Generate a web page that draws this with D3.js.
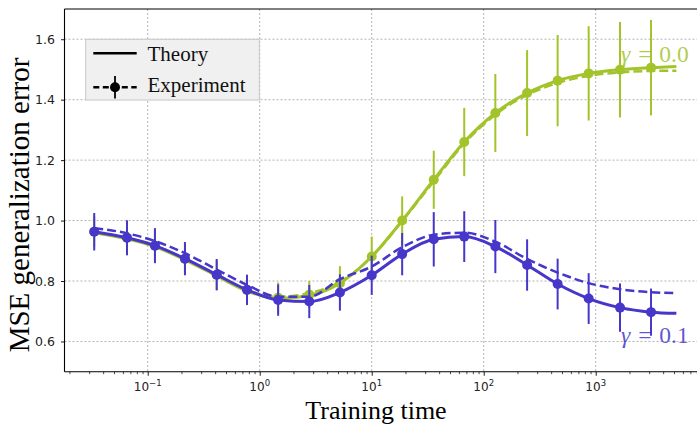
<!DOCTYPE html>
<html><head><meta charset="utf-8">
<script src="https://cdn.jsdelivr.net/npm/d3@7"></script>
<style>body{margin:0;background:#fff}svg{display:block}</style>
</head><body>
<svg id="c" width="697" height="425"></svg>
<script>
// ---- data ----
const times = [0.0333, 0.0653, 0.116, 0.215, 0.413, 0.77, 1.46, 2.77, 5.2, 10, 18.7, 35.8, 67, 127, 244, 457, 865, 1648, 3118];
const tEnd = 5250;
const blueExp = [0.963, 0.943, 0.917, 0.874, 0.821, 0.771, 0.737, 0.732, 0.762, 0.819, 0.889, 0.938, 0.947, 0.914, 0.853, 0.790, 0.742, 0.712, 0.697];
const blueErr = [0.062, 0.058, 0.058, 0.055, 0.052, 0.05, 0.052, 0.055, 0.06, 0.065, 0.07, 0.09, 0.084, 0.088, 0.085, 0.084, 0.084, 0.08, 0.078];
const blueTheory = [0.963, 0.943, 0.917, 0.874, 0.821, 0.771, 0.737, 0.732, 0.762, 0.819, 0.889, 0.938, 0.947, 0.914, 0.853, 0.790, 0.742, 0.712, 0.697, 0.693];
const blueDashed = [0.975, 0.958, 0.932, 0.892, 0.838, 0.787, 0.748, 0.748, 0.806, 0.848, 0.912, 0.953, 0.960, 0.930, 0.873, 0.828, 0.793, 0.773, 0.763, 0.760];
const greenExp = [0.963, 0.943, 0.917, 0.873, 0.820, 0.770, 0.745, 0.755, 0.793, 0.881, 1.0, 1.135, 1.26, 1.356, 1.422, 1.463, 1.487, 1.499, 1.506];
const greenErr = [0.05, 0.05, 0.05, 0.05, 0.05, 0.05, 0.05, 0.045, 0.056, 0.066, 0.08, 0.096, 0.113, 0.129, 0.142, 0.151, 0.156, 0.158, 0.158];
const greenTheory = [0.960, 0.940, 0.914, 0.870, 0.817, 0.767, 0.742, 0.752, 0.793, 0.881, 1.0, 1.135, 1.26, 1.356, 1.422, 1.463, 1.487, 1.499, 1.506, 1.51];
const greenDashed = [0.962, 0.942, 0.916, 0.873, 0.820, 0.770, 0.748, 0.760, 0.797, 0.880, 0.998, 1.13, 1.255, 1.35, 1.416, 1.455, 1.479, 1.490, 1.495, 1.496];
const yTicks = [0.6, 0.8, 1.0, 1.2, 1.4, 1.6];
const xTickExps = [-1, 0, 1, 2, 3];
const legendLabels = ["Theory", "Experiment"];
const seriesLabels = ["γ = 0.0", "γ = 0.1"];

const BLUE = "#4636c9", GREEN = "#a2c42a";

// ---- layout ----
const L = 64.5, T = 9, B = 371.7;
const x = d3.scaleLog().domain([Math.pow(10, -1.743), 1e4]).range([L, L + 5.743 * 112]);
const y = d3.scaleLinear().domain([0.5, 1.7]).range([B, T]);

const svg = d3.select("#c");
const g = svg.append("g");

// grid
g.append("g").selectAll("line").data(yTicks).join("line")
  .attr("x1", L).attr("x2", 697).attr("y1", d => y(d)).attr("y2", d => y(d))
  .attr("stroke", "#a0a0a0").attr("stroke-width", 0.8).attr("stroke-dasharray", "2,2");
g.append("g").selectAll("line").data(xTickExps).join("line")
  .attr("x1", d => x(Math.pow(10, d))).attr("x2", d => x(Math.pow(10, d)))
  .attr("y1", T).attr("y2", B)
  .attr("stroke", "#a0a0a0").attr("stroke-width", 0.8).attr("stroke-dasharray", "2,2");

// axes
const xAxis = d3.axisBottom(x).tickValues(xTickExps.map(e => Math.pow(10, e))).tickSize(4).tickFormat("");
const minor = [];
for (let e = -2; e <= 3; e++) for (let k = 2; k <= 9; k++) { const v = k * Math.pow(10, e); if (v > x.domain()[0] && v < x.domain()[1]) minor.push(v); }
const xa = g.append("g").attr("transform", `translate(0,${B})`).call(xAxis);
xa.select(".domain").remove();
xa.selectAll("line").attr("stroke", "#000").attr("stroke-width", 0.9);
const xm = g.append("g").attr("transform", `translate(0,${B})`).call(d3.axisBottom(x).tickValues(minor).tickSize(2.5).tickFormat(""));
xm.select(".domain").remove();
xm.selectAll("line").attr("stroke", "#000").attr("stroke-width", 0.7);

const xl = g.append("g").selectAll("text").data(xTickExps).join("text")
  .attr("x", d => x(Math.pow(10, d))).attr("y", 391)
  .attr("text-anchor", "middle").attr("font-family", "DejaVu Sans").attr("font-size", 12).attr("fill", "#222");
xl.append("tspan").text("10");
xl.append("tspan").attr("dy", -5).attr("font-size", 8.5).text(d => d < 0 ? "−" + Math.abs(d) : String(d));

const ya = g.append("g").attr("transform", `translate(${L},0)`).call(d3.axisLeft(y).tickValues(yTicks).tickSize(3.5).tickFormat(d3.format(".1f")));
ya.select(".domain").remove();
ya.selectAll("line").attr("stroke", "#000").attr("stroke-width", 0.9);
ya.selectAll("text").attr("font-family", "DejaVu Sans").attr("font-size", 12.5).attr("fill", "#222").attr("x", -9.5);

// spines
g.append("line").attr("x1", L).attr("x2", L).attr("y1", T).attr("y2", B).attr("stroke", "#000").attr("stroke-width", 1.1);
g.append("line").attr("x1", L).attr("x2", 697).attr("y1", B).attr("y2", B).attr("stroke", "#000").attr("stroke-width", 1.1);
g.append("line").attr("x1", L).attr("x2", 697).attr("y1", T).attr("y2", T).attr("stroke", "#000").attr("stroke-width", 1.1);

// series
const tLine = times.concat([tEnd]);
const line = d3.line().x((d, i) => x(tLine[i])).y(d => y(d)).curve(d3.curveMonotoneX);

function drawSeries(color, theory, dashed, exp, err) {
  const s = g.append("g");
  s.append("path").attr("d", line(theory)).attr("fill", "none").attr("stroke", color).attr("stroke-width", 3);
  s.append("path").attr("d", line(dashed)).attr("fill", "none").attr("stroke", color).attr("stroke-width", 2.5).attr("stroke-dasharray", "9,4");
  s.append("g").selectAll("line").data(exp).join("line")
    .attr("x1", (d, i) => x(times[i])).attr("x2", (d, i) => x(times[i]))
    .attr("y1", (d, i) => y(d - err[i])).attr("y2", (d, i) => y(d + err[i]))
    .attr("stroke", color).attr("stroke-width", 2);
  s.append("g").selectAll("circle").data(exp).join("circle")
    .attr("cx", (d, i) => x(times[i])).attr("cy", d => y(d)).attr("r", 5).attr("fill", color);
}
drawSeries(GREEN, greenTheory, greenDashed, greenExp, greenErr);
drawSeries(BLUE, blueTheory, blueDashed, blueExp, blueErr);

// series labels
function gammaLabel(txt, color, px, py) {
  const t = g.append("text").attr("x", px).attr("y", py).attr("font-family", "Liberation Serif").attr("font-size", 23.5).attr("fill", color).attr("fill-opacity", 0.85);
  t.append("tspan").attr("font-style", "italic").text(txt.slice(0, 1));
  t.append("tspan").attr("dx", 2).text(txt.slice(1, 3));
  t.append("tspan").attr("dx", 2).text(txt.slice(3));
}
gammaLabel(seriesLabels[0], GREEN, 621, 62);
gammaLabel(seriesLabels[1], BLUE, 621, 343);

// legend
const lg = g.append("g");
lg.append("rect").attr("x", 85.7).attr("y", 39.3).attr("width", 173.6).attr("height", 60.7)
  .attr("fill", "#f0f0f0").attr("stroke", "#c8c8c8").attr("stroke-width", 1);
lg.append("line").attr("x1", 93.3).attr("x2", 136.7).attr("y1", 53.3).attr("y2", 53.3).attr("stroke", "#000").attr("stroke-width", 2.5);
lg.append("line").attr("x1", 93.3).attr("x2", 136.7).attr("y1", 87.3).attr("y2", 87.3).attr("stroke", "#000").attr("stroke-width", 2.5).attr("stroke-dasharray", "6,3.5");
lg.append("line").attr("x1", 115).attr("x2", 115).attr("y1", 76).attr("y2", 98.5).attr("stroke", "#000").attr("stroke-width", 1.8);
lg.append("circle").attr("cx", 115).attr("cy", 87.3).attr("r", 5).attr("fill", "#000");
lg.selectAll("text.lt").data(legendLabels).join("text").attr("class", "lt")
  .attr("x", 147.5).attr("y", (d, i) => 60.5 + i * 31)
  .attr("font-family", "Liberation Serif").attr("font-size", 21).attr("fill", "#111").text(d => d);

// axis titles
g.append("text").attr("x", 376).attr("y", 419).attr("text-anchor", "middle")
  .attr("font-family", "Liberation Serif").attr("font-size", 26).attr("fill", "#000").text("Training time");
g.append("text").attr("transform", "translate(29,205) rotate(-90)").attr("text-anchor", "middle")
  .attr("font-family", "Liberation Serif").attr("font-size", 29).attr("fill", "#000").text("MSE generalization error");
</script>
</body></html>
